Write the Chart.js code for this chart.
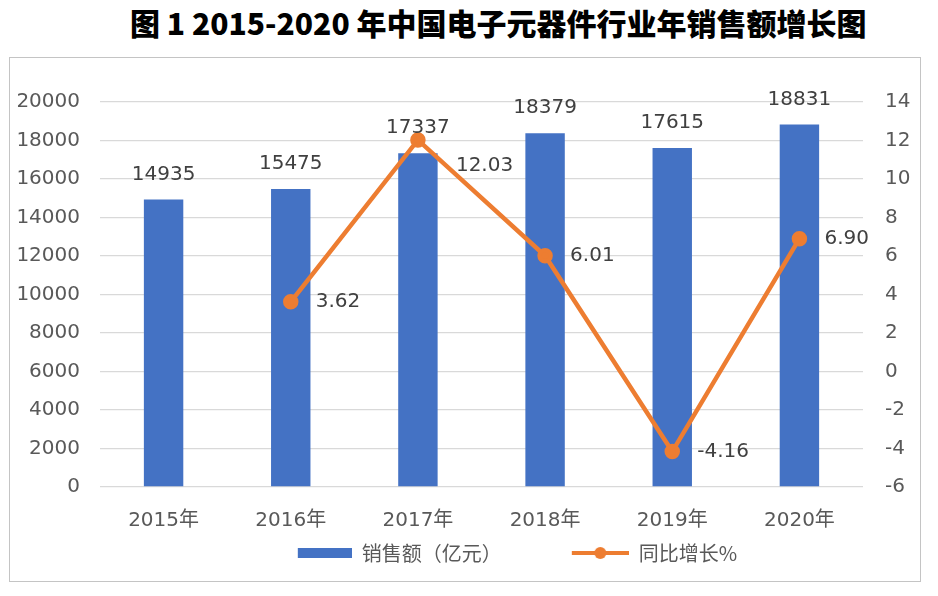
<!DOCTYPE html>
<html>
<head>
<meta charset="utf-8">
<script src="https://cdn.jsdelivr.net/npm/chart.js@4.4.0/dist/chart.umd.min.js"></script>
<style>
  body { margin: 0; background: #fff; width: 938px; height: 596px; position: relative; overflow: hidden; }
  #title {
    position: absolute; left: 130px; top: 6px; white-space: nowrap;
    font-family: "Liberation Sans Narrow", "Noto Sans CJK SC", sans-serif;
    font-size: 30px; line-height: 32px; font-weight: 900; color: #000;
  }
  #frame {
    position: absolute; left: 9px; top: 57px; width: 910px; height: 523px;
    border: 1px solid #c4c4c4; overflow: hidden;
  }
  /* canvas is a bit wider than the frame so the centred legend lands where the original has it */
  #chart { display: block; }
</style>
</head>
<body>
<div id="title">图 1 2015-2020 年中国电子元器件行业年销售额增长图</div>
<div id="frame"><canvas id="chart" width="952" height="523"></canvas></div>
<script>
const years = ['2015年', '2016年', '2017年', '2018年', '2019年', '2020年'];
const salesData = [14935, 15475, 17337, 18379, 17615, 18831];
const growthData = [null, 3.62, 12.03, 6.01, -4.16, 6.90];
const salesLabel = '销售额（亿元）';
const growthLabel = '同比增长%';

const blue = '#4472C4';
const orange = '#ED7D31';
const numFont = "'DejaVu Sans', 'Noto Sans CJK SC', sans-serif";

// legend symbols, drawn right-aligned inside a wide box so the gap between items matches
const legendBoxW = 117;
function makeBarIcon() {
    const c = document.createElement('canvas');
    c.width = legendBoxW; c.height = 14;
    const g = c.getContext('2d');
    g.fillStyle = blue;
    g.fillRect(legendBoxW - 54, 2, 54, 10);
    return c;
}
function makeLineIcon() {
    const c = document.createElement('canvas');
    c.width = legendBoxW; c.height = 14;
    const g = c.getContext('2d');
    g.strokeStyle = orange;
    g.lineWidth = 4;
    g.beginPath();
    g.moveTo(legendBoxW - 57, 7);
    g.lineTo(legendBoxW, 7);
    g.stroke();
    g.fillStyle = orange;
    g.beginPath();
    g.arc(legendBoxW - 28.5, 7, 6, 0, Math.PI * 2);
    g.fill();
    return c;
}
const legendIcons = [makeBarIcon(), makeLineIcon()];

const valueLabels = {
    id: 'valueLabels',
    afterDatasetsDraw(chart) {
        const ctx = chart.ctx;
        ctx.save();
        ctx.font = '20px ' + numFont;
        ctx.fillStyle = '#404040';
        ctx.textBaseline = 'middle';

        ctx.textAlign = 'center';
        chart.getDatasetMeta(0).data.forEach((bar, i) => {
            ctx.fillText(String(salesData[i]), bar.x, bar.y - 25);
        });

        ctx.textAlign = 'left';
        chart.getDatasetMeta(1).data.forEach((pt, i) => {
            if (growthData[i] === null) return;
            // the peak label sits lower so it clears the bar value above
            const dx = i === 2 ? 38 : 25;
            const dy = i === 2 ? 26 : 0;
            ctx.fillText(growthData[i].toFixed(2), pt.x + dx, pt.y + dy);
        });
        ctx.restore();
    }
};

const plainTick = v => String(v);

new Chart(document.getElementById('chart'), {
    type: 'bar',
    data: {
        labels: years,
        datasets: [
            {
                type: 'bar',
                label: salesLabel,
                data: salesData,
                backgroundColor: blue,
                yAxisID: 'y',
                barPercentage: 0.31,
                categoryPercentage: 1,
                order: 2
            },
            {
                type: 'line',
                label: growthLabel,
                data: growthData,
                borderColor: orange,
                backgroundColor: orange,
                borderWidth: 4.5,
                pointRadius: 5.5,
                pointBackgroundColor: orange,
                pointBorderColor: orange,
                tension: 0,
                yAxisID: 'y1',
                order: 1
            }
        ]
    },
    options: {
        responsive: false,
        animation: false,
        layout: { padding: { top: 44, left: 0, right: 0, bottom: 8 } },
        scales: {
            x: {
                grid: { display: false },
                border: { display: false },
                ticks: { color: '#595959', font: { size: 20, family: numFont }, padding: 14 },
                afterFit: s => { s.height = 46; }
            },
            y: {
                position: 'left',
                min: 0,
                max: 20000,
                ticks: { stepSize: 2000, callback: plainTick, color: '#595959', font: { size: 20, family: numFont }, padding: 20 },
                grid: { color: '#d9d9d9', lineWidth: 1.3, drawTicks: false },
                border: { display: false },
                afterFit: s => { s.width = 90; }
            },
            y1: {
                position: 'right',
                min: -6,
                max: 14,
                ticks: { stepSize: 2, callback: plainTick, color: '#595959', font: { size: 20, family: numFont }, padding: 22, crossAlign: 'near' },
                grid: { display: false, drawTicks: false },
                border: { display: false },
                afterFit: s => { s.width = 99; }
            }
        },
        plugins: {
            tooltip: { enabled: false },
            legend: {
                position: 'bottom',
                labels: {
                    usePointStyle: true,
                    pointStyleWidth: legendBoxW,
                    padding: 10,
                    color: '#595959',
                    font: { size: 20, family: "'Noto Sans CJK SC', sans-serif" },
                    sort: (a, b) => a.datasetIndex - b.datasetIndex,
                    generateLabels: chart => {
                        const items = Chart.defaults.plugins.legend.labels.generateLabels(chart);
                        items.forEach(item => { item.pointStyle = legendIcons[item.datasetIndex]; });
                        return items;
                    }
                }
            }
        }
    },
    plugins: [valueLabels]
});
</script>
</body>
</html>
